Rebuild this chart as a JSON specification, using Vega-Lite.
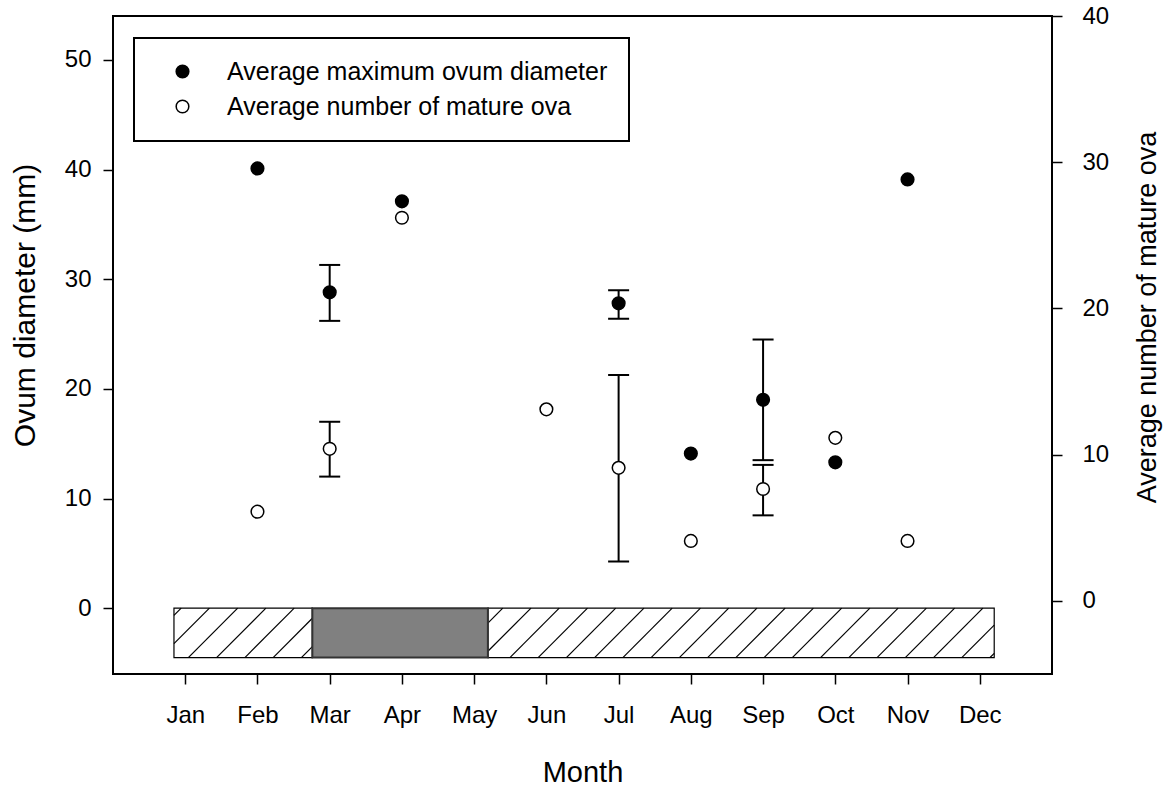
{
  "$schema": "https://vega.github.io/schema/vega-lite/v6.json",
  "width": 939,
  "height": 658,
  "autosize": {"type": "none"},
  "padding": {"left": 113, "top": 16, "right": 120, "bottom": 114},
  "background": "white",
  "config": {
    "font": "Liberation Sans",
    "view": {"stroke": "black", "strokeWidth": 2},
    "axis": {
      "grid": false,
      "domain": false,
      "labelFont": "Liberation Sans",
      "titleFont": "Liberation Sans",
      "labelColor": "black",
      "titleColor": "black",
      "tickColor": "black",
      "tickWidth": 1.5,
      "tickSize": 10,
      "labelFontSize": 24,
      "titleFontWeight": "normal"
    }
  },
  "datasets": {
    "season": [
      {"start": 0.844, "end": 2.76, "kind": "hatched"},
      {"start": 2.76, "end": 5.19, "kind": "grey"},
      {"start": 5.19, "end": 12.2, "kind": "hatched"}
    ],
    "hatch": [
      {"x": 0.844, "y": -0.659, "x2": 0.944, "y2": 0},
      {"x": 0.844, "y": -3.235, "x2": 1.335, "y2": 0},
      {"x": 1.043, "y": -4.5, "x2": 1.726, "y2": 0},
      {"x": 1.434, "y": -4.5, "x2": 2.117, "y2": 0},
      {"x": 1.826, "y": -4.5, "x2": 2.509, "y2": 0},
      {"x": 2.217, "y": -4.5, "x2": 2.76, "y2": -0.92},
      {"x": 2.608, "y": -4.5, "x2": 2.76, "y2": -3.5},
      {"x": 5.19, "y": -1.36, "x2": 5.396, "y2": 0},
      {"x": 5.19, "y": -3.93, "x2": 5.787, "y2": 0},
      {"x": 5.495, "y": -4.5, "x2": 6.178, "y2": 0},
      {"x": 5.886, "y": -4.5, "x2": 6.569, "y2": 0},
      {"x": 6.277, "y": -4.5, "x2": 6.96, "y2": 0},
      {"x": 6.668, "y": -4.5, "x2": 7.351, "y2": 0},
      {"x": 7.059, "y": -4.5, "x2": 7.742, "y2": 0},
      {"x": 7.45, "y": -4.5, "x2": 8.133, "y2": 0},
      {"x": 7.841, "y": -4.5, "x2": 8.524, "y2": 0},
      {"x": 8.232, "y": -4.5, "x2": 8.915, "y2": 0},
      {"x": 8.623, "y": -4.5, "x2": 9.306, "y2": 0},
      {"x": 9.014, "y": -4.5, "x2": 9.697, "y2": 0},
      {"x": 9.405, "y": -4.5, "x2": 10.088, "y2": 0},
      {"x": 9.796, "y": -4.5, "x2": 10.479, "y2": 0},
      {"x": 10.187, "y": -4.5, "x2": 10.87, "y2": 0},
      {"x": 10.578, "y": -4.5, "x2": 11.261, "y2": 0},
      {"x": 10.969, "y": -4.5, "x2": 11.652, "y2": 0},
      {"x": 11.36, "y": -4.5, "x2": 12.043, "y2": 0},
      {"x": 11.751, "y": -4.5, "x2": 12.2, "y2": -1.54},
      {"x": 12.142, "y": -4.5, "x2": 12.2, "y2": -4.12}
    ],
    "diam": [
      {"month": 2, "series": "Average maximum ovum diameter", "value": 40.1},
      {"month": 3, "series": "Average maximum ovum diameter", "value": 28.8, "lo": 26.2, "hi": 31.3},
      {"month": 4, "series": "Average maximum ovum diameter", "value": 37.1},
      {"month": 7, "series": "Average maximum ovum diameter", "value": 27.8, "lo": 26.4, "hi": 29.0},
      {"month": 8, "series": "Average maximum ovum diameter", "value": 14.1},
      {"month": 9, "series": "Average maximum ovum diameter", "value": 19.0, "lo": 13.5, "hi": 24.5},
      {"month": 10, "series": "Average maximum ovum diameter", "value": 13.3},
      {"month": 11, "series": "Average maximum ovum diameter", "value": 39.1}
    ],
    "ova": [
      {"month": 2, "series": "Average number of mature ova", "value": 6.1},
      {"month": 3, "series": "Average number of mature ova", "value": 10.4, "lo": 8.5, "hi": 12.25},
      {"month": 4, "series": "Average number of mature ova", "value": 26.2},
      {"month": 6, "series": "Average number of mature ova", "value": 13.1},
      {"month": 7, "series": "Average number of mature ova", "value": 9.1, "lo": 2.7, "hi": 15.45},
      {"month": 8, "series": "Average number of mature ova", "value": 4.1},
      {"month": 9, "series": "Average number of mature ova", "value": 7.65, "lo": 5.85, "hi": 9.3},
      {"month": 10, "series": "Average number of mature ova", "value": 11.15},
      {"month": 11, "series": "Average number of mature ova", "value": 4.1}
    ]
  },
  "layer": [
    {
      "layer": [
        {
          "data": {"name": "season"},
          "transform": [{"filter": "datum.kind == 'hatched'"}],
          "mark": {"type": "rect", "fill": "white", "stroke": "black", "strokeWidth": 1.2},
          "encoding": {
            "x": {
              "field": "start", "type": "quantitative",
              "scale": {"domain": [0, 13], "nice": false, "zero": false},
              "axis": {
                "values": [1, 2, 3, 4, 5, 6, 7, 8, 9, 10, 11, 12],
                "labelExpr": "['Jan','Feb','Mar','Apr','May','Jun','Jul','Aug','Sep','Oct','Nov','Dec'][datum.value - 1]",
                "labelPadding": 19,
                "title": "Month",
                "titleFontSize": 29,
                "titleBaseline": "alphabetic",
                "titleY": 107
              }
            },
            "x2": {"field": "end"},
            "y": {
              "datum": 0, "type": "quantitative",
              "scale": {"domain": [-6, 54], "nice": false, "zero": false},
              "axis": {
                "values": [0, 10, 20, 30, 40, 50],
                "labelPadding": 12,
                "title": "Ovum diameter (mm)",
                "titleFontSize": 30,
                "titleAngle": -90,
                "titleBaseline": "alphabetic",
                "titleAlign": "center",
                "titleX": -79,
                "titleY": 289
              }
            },
            "y2": {"datum": -4.5}
          }
        },
        {
          "data": {"name": "hatch"},
          "mark": {"type": "rule", "color": "black", "strokeWidth": 1.2},
          "encoding": {
            "x": {"field": "x", "type": "quantitative"},
            "x2": {"field": "x2"},
            "y": {"field": "y", "type": "quantitative"},
            "y2": {"field": "y2"}
          }
        },
        {
          "data": {"name": "season"},
          "transform": [{"filter": "datum.kind == 'grey'"}],
          "mark": {"type": "rect", "fill": "#808080", "stroke": "#333333", "strokeWidth": 2},
          "encoding": {
            "x": {"field": "start", "type": "quantitative"},
            "x2": {"field": "end"},
            "y": {"datum": 0, "type": "quantitative"},
            "y2": {"datum": -4.5}
          }
        },
        {
          "data": {"name": "diam"},
          "transform": [{"filter": "datum.lo != null"}],
          "mark": {"type": "rule", "color": "black", "strokeWidth": 2},
          "encoding": {
            "x": {"field": "month", "type": "quantitative"},
            "y": {"field": "lo", "type": "quantitative"},
            "y2": {"field": "hi"}
          }
        },
        {
          "data": {"name": "diam"},
          "transform": [{"filter": "datum.lo != null"}],
          "mark": {"type": "tick", "orient": "horizontal", "size": 21, "thickness": 2, "color": "black", "opacity": 1},
          "encoding": {
            "x": {"field": "month", "type": "quantitative"},
            "y": {"field": "lo", "type": "quantitative"}
          }
        },
        {
          "data": {"name": "diam"},
          "transform": [{"filter": "datum.lo != null"}],
          "mark": {"type": "tick", "orient": "horizontal", "size": 21, "thickness": 2, "color": "black", "opacity": 1},
          "encoding": {
            "x": {"field": "month", "type": "quantitative"},
            "y": {"field": "hi", "type": "quantitative"}
          }
        },
        {
          "data": {"name": "diam"},
          "mark": {"type": "circle", "size": 160, "stroke": "black", "strokeWidth": 1.5, "opacity": 1},
          "encoding": {
            "x": {"field": "month", "type": "quantitative"},
            "y": {"field": "value", "type": "quantitative"},
            "fill": {
              "field": "series", "type": "nominal",
              "scale": {"domain": ["Average maximum ovum diameter", "Average number of mature ova"], "range": ["black", "white"]},
              "legend": {
                "orient": "none",
                "legendX": 21,
                "legendY": 22,
                "title": null,
                "padding": 21,
                "strokeColor": "black",
                "fillColor": "white",
                "labelFont": "Liberation Sans",
                "labelFontSize": 25,
                "labelColor": "black",
                "labelLimit": 700,
                "labelOffset": 32,
                "symbolOffset": 15,
                "symbolType": "circle",
                "symbolSize": 160,
                "symbolStrokeColor": "black",
                "symbolStrokeWidth": 1.5,
                "symbolOpacity": 1,
                "rowPadding": 9,
                "encode": {"legend": {"update": {"strokeWidth": {"value": 2}}}}
              }
            }
          }
        }
      ]
    },
    {
      "layer": [
        {
          "data": {"name": "ova"},
          "transform": [{"filter": "datum.lo != null"}],
          "mark": {"type": "rule", "color": "black", "strokeWidth": 2},
          "encoding": {
            "x": {"field": "month", "type": "quantitative"},
            "y": {
              "field": "lo", "type": "quantitative",
              "scale": {"domain": [-5, 40], "nice": false, "zero": false},
              "axis": {
                "orient": "right",
                "values": [0, 10, 20, 30, 40],
                "labelPadding": 20,
                "title": "Average number of mature ova",
                "titleFontSize": 27,
                "titleAngle": -90,
                "titleBaseline": "alphabetic",
                "titleAlign": "center",
                "titleX": 103,
                "titleY": 301
              }
            },
            "y2": {"field": "hi"}
          }
        },
        {
          "data": {"name": "ova"},
          "transform": [{"filter": "datum.lo != null"}],
          "mark": {"type": "tick", "orient": "horizontal", "size": 21, "thickness": 2, "color": "black", "opacity": 1},
          "encoding": {
            "x": {"field": "month", "type": "quantitative"},
            "y": {"field": "lo", "type": "quantitative"}
          }
        },
        {
          "data": {"name": "ova"},
          "transform": [{"filter": "datum.lo != null"}],
          "mark": {"type": "tick", "orient": "horizontal", "size": 21, "thickness": 2, "color": "black", "opacity": 1},
          "encoding": {
            "x": {"field": "month", "type": "quantitative"},
            "y": {"field": "hi", "type": "quantitative"}
          }
        },
        {
          "data": {"name": "ova"},
          "mark": {"type": "circle", "size": 160, "stroke": "black", "strokeWidth": 1.5, "opacity": 1},
          "encoding": {
            "x": {"field": "month", "type": "quantitative"},
            "y": {"field": "value", "type": "quantitative"},
            "fill": {"field": "series", "type": "nominal"}
          }
        }
      ]
    }
  ],
  "resolve": {"scale": {"y": "independent"}, "axis": {"y": "independent"}}
}
